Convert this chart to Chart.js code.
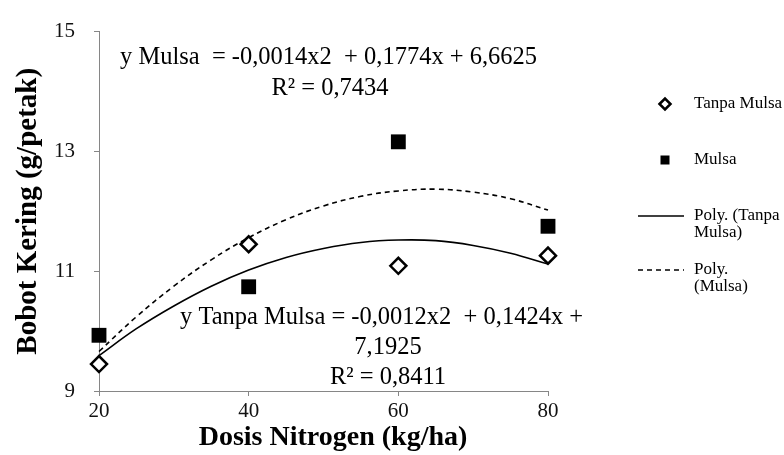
<!DOCTYPE html>
<html>
<head>
<meta charset="utf-8">
<script src="https://cdn.jsdelivr.net/npm/chart.js@4.4.1/dist/chart.umd.min.js"></script>
<style>
  html, body { margin: 0; padding: 0; background: #fff; }
  #wrap { width: 784px; height: 455px; position: relative; }
</style>
</head>
<body>
<div id="wrap"><canvas id="c" width="784" height="455"></canvas></div>
<script>
// Data
const doses = [20, 40, 60, 80];
const tanpaMulsa = [9.45, 11.45, 11.09, 11.26];
const mulsa = [9.93, 10.74, 13.16, 11.75];

// Trend curves (Excel polynomial trendlines)
const trendX = [20, 25, 30, 35, 40, 45, 50, 55, 60, 65, 70, 75, 80];
const trendTanpa = [9.59, 10.04, 10.42, 10.75, 11.02, 11.23, 11.38, 11.48, 11.52, 11.51, 11.43, 11.30, 11.12];
const trendMulsa = [9.66, 10.24, 10.75, 11.19, 11.56, 11.86, 12.09, 12.25, 12.34, 12.37, 12.32, 12.21, 12.02];

const xTicks = [20, 40, 60, 80];
const yTicks = [9, 11, 13, 15];

const xTitle = 'Dosis Nitrogen (kg/ha)';
const yTitle = 'Bobot Kering (g/petak)';
const eqMulsa = ['y Mulsa  = -0,0014x2  + 0,1774x + 6,6625', 'R² = 0,7434'];
const eqTanpa = ['y Tanpa Mulsa = -0,0012x2  + 0,1424x +', '7,1925', 'R² = 0,8411'];

const legendItems = [
  { kind: 'diamond', lines: ['Tanpa Mulsa'] },
  { kind: 'square', lines: ['Mulsa'] },
  { kind: 'solid', lines: ['Poly. (Tanpa', 'Mulsa)'] },
  { kind: 'dashed', lines: ['Poly.', '(Mulsa)'] }
];

const SERIF = '"Liberation Serif", "Times New Roman", serif';

const toPts = (xs, ys) => xs.map((x, i) => ({ x: x, y: ys[i] }));

const textPlugin = {
  id: 'texts',
  afterDraw(chart) {
    const ctx = chart.ctx;
    ctx.save();
    ctx.fillStyle = '#000';
    ctx.textBaseline = 'middle';

    // x axis title
    ctx.font = 'bold 28px ' + SERIF;
    ctx.textAlign = 'center';
    ctx.fillText(xTitle, 333, 438);

    ctx.font = '24.5px ' + SERIF;
    // top equation (Mulsa)
    ctx.textAlign = 'left';
    ctx.fillText(eqMulsa[0], 120, 58);
    ctx.textAlign = 'center';
    ctx.fillText(eqMulsa[1], 330, 89);
    // bottom equation (Tanpa Mulsa)
    ctx.textAlign = 'left';
    ctx.fillText(eqTanpa[0], 180, 318);
    ctx.textAlign = 'center';
    ctx.fillText(eqTanpa[1], 388, 348);
    ctx.fillText(eqTanpa[2], 388, 378);

    // legend
    ctx.font = '17px ' + SERIF;
    ctx.textAlign = 'left';
    const rowsY = [104, 160, 216, 270];
    const textX = 694, markX = 665;
    legendItems.forEach((it, i) => {
      const y = rowsY[i];
      ctx.strokeStyle = '#000';
      ctx.fillStyle = '#000';
      if (it.kind === 'diamond') {
        ctx.lineWidth = 2.5;
        ctx.fillStyle = '#fff';
        ctx.beginPath();
        ctx.moveTo(markX - 5.5, y); ctx.lineTo(markX, y - 5.5); ctx.lineTo(markX + 5.5, y); ctx.lineTo(markX, y + 5.5); ctx.closePath();
        ctx.fill(); ctx.stroke();
      } else if (it.kind === 'square') {
        ctx.fillRect(markX - 4.5, y - 4.5, 9, 9);
      } else {
        ctx.lineWidth = 1.5;
        ctx.setLineDash(it.kind === 'dashed' ? [5, 4] : []);
        ctx.beginPath(); ctx.moveTo(638, y); ctx.lineTo(684, y); ctx.stroke();
        ctx.setLineDash([]);
      }
      ctx.fillStyle = '#000';
      it.lines.forEach((t, j) => ctx.fillText(t, textX, y + j * 17));
    });
    ctx.restore();
  }
};

new Chart(document.getElementById('c'), {
  type: 'scatter',
  data: {
    datasets: [
      {
        label: 'Tanpa Mulsa',
        data: toPts(doses, tanpaMulsa),
        pointStyle: 'rectRot',
        pointRadius: 8,
        pointHoverRadius: 8,
        pointBackgroundColor: '#fff',
        pointBorderColor: '#000',
        pointBorderWidth: 2.5,
        showLine: false,
        clip: false,
        order: 0
      },
      {
        label: 'Mulsa',
        data: toPts(doses, mulsa),
        pointStyle: 'rect',
        pointRadius: 10.5,
        pointHoverRadius: 10.5,
        pointBackgroundColor: '#000',
        pointBorderColor: '#000',
        pointBorderWidth: 0,
        showLine: false,
        clip: false,
        order: 0
      },
      {
        label: 'Poly. (Tanpa Mulsa)',
        data: toPts(trendX, trendTanpa),
        showLine: true,
        borderColor: '#000',
        borderWidth: 1.6,
        pointRadius: 0,
        tension: 0.4,
        clip: false,
        order: 1
      },
      {
        label: 'Poly. (Mulsa)',
        data: toPts(trendX, trendMulsa),
        showLine: true,
        borderColor: '#000',
        borderWidth: 1.6,
        borderDash: [5, 4],
        pointRadius: 0,
        tension: 0.4,
        clip: false,
        order: 1
      }
    ]
  },
  options: {
    responsive: false,
    animation: false,
    devicePixelRatio: 1,
    layout: { padding: { left: 0, right: 236, top: 21.5, bottom: 0 } },
    plugins: { legend: { display: false }, tooltip: { enabled: false } },
    scales: {
      x: {
        type: 'linear',
        min: 20, max: 80,
        afterBuildTicks: (s) => { s.ticks = xTicks.map(v => ({ value: v })); },
        afterFit: (s) => { s.height = 64; },
        border: { color: '#868686', width: 1 },
        grid: { display: true, drawOnChartArea: false, drawTicks: true, tickLength: 5, color: '#868686' },
        ticks: { color: '#111', padding: 3, font: { family: SERIF, size: 21 } },
        title: { display: false, text: xTitle }
      },
      y: {
        type: 'linear',
        min: 9, max: 15,
        afterBuildTicks: (s) => { s.ticks = yTicks.map(v => ({ value: v })); },
        afterFit: (s) => { s.width = 99; },
        border: { color: '#868686', width: 1 },
        grid: { display: true, drawOnChartArea: false, drawTicks: true, tickLength: 5, color: '#868686' },
        ticks: { color: '#111', padding: 19, font: { family: SERIF, size: 21 } },
        title: { display: true, text: yTitle, color: '#000', padding: { top: 11, bottom: 0 }, font: { family: SERIF, size: 29, weight: 'bold' } }
      }
    }
  },
  plugins: [textPlugin]
});
</script>
</body>
</html>
